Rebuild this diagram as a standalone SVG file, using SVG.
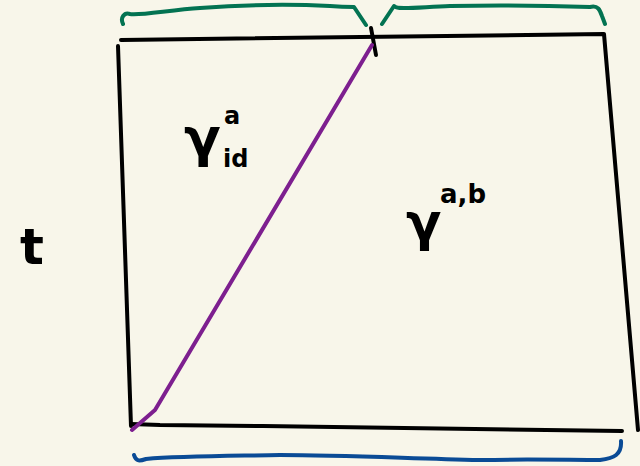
<svg xmlns="http://www.w3.org/2000/svg" width="640" height="466" viewBox="0 0 640 466">
<style>
.ink{fill:none;stroke-linecap:round;stroke-linejoin:round}
.blk{stroke:#000;stroke-width:4}
.grn{stroke:#037352;stroke-width:4}
.blu{stroke:#0a4b96;stroke-width:4}
.pur{stroke:#7d1f8f;stroke-width:4}
.t{font-family:"DejaVu Sans",sans-serif;fill:#000;font-weight:bold}
</style>
<rect width="640" height="466" fill="#f8f6ea"/>
<g id="square">
<path class="ink blk" d="M121 40 L604 34 L638 430"/>
<path class="ink blk" d="M118 46 L131 426"/>
<path class="ink blk" d="M131 424 L160 425 L263 426 L622 431"/>
<path class="ink blk" d="M371 28 L376 55"/>
</g>
<g id="connectors">
<path class="ink pur" d="M372 45 L155 410 L132 430"/>
</g>
<g id="braces">
<path class="ink grn" d="M123 24 C120 18 124 12 130 14 C138 16 170 10 200 8 C240 5 290 4 330 6 C342 7 350 7 354 7 L360 16 L366 25"/>
<path class="ink grn" d="M382 24 L390 12 L394 6 C396 10 420 7 450 6 C500 5 560 6 590 7 C598 5 600 10 602 16 L605 24"/>
<path class="ink blu" d="M134 455 C136 462 140 461 146 459 C180 456 230 456 280 455 C340 455 400 458 480 460 C530 459 570 460 600 460 C614 458 622 455 621 441"/>
</g>
<g id="label-t"><text class="t" x="20" y="264" font-size="50">t</text></g>
<g id="label-gid">
<text class="t" x="184" y="156" font-size="54">γ</text>
<text class="t" x="224" y="124" font-size="24">a</text>
<text class="t" x="223" y="167" font-size="24">id</text>
</g>
<g id="label-gab">
<text class="t" x="406" y="240" font-size="52">γ</text>
<text class="t" x="440" y="203" font-size="26">a,b</text>
</g>
</svg>
